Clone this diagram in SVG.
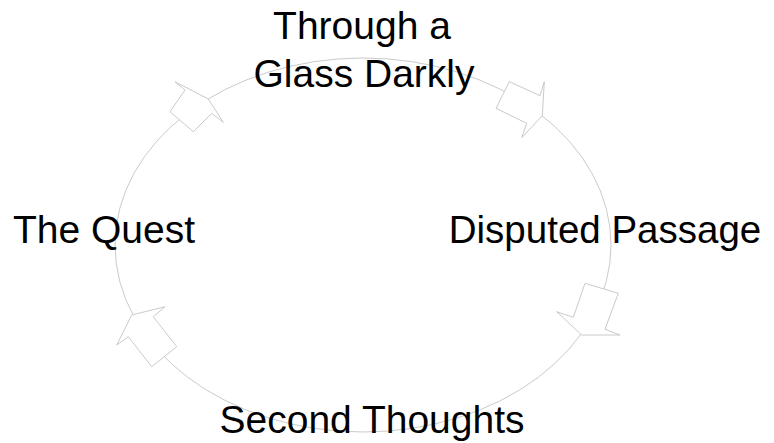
<svg xmlns="http://www.w3.org/2000/svg" width="774" height="443" viewBox="0 0 774 443">
<style>
.ring{fill:none;stroke:#bdbdbd;stroke-width:0.8}
.arr{fill:#ffffff;stroke:#c4c4c4;stroke-width:0.9;stroke-linejoin:miter}
.lbl{font-family:"Liberation Sans",Arial,sans-serif;font-size:39px;fill:#000000;text-anchor:middle}
</style>
<rect width="774" height="443" fill="#ffffff"/>
<g id="connectors">
<ellipse class="ring" cx="363" cy="245" rx="248" ry="187"/>
<polygon class="arr" points="208.3,99 223.3,122.3 211.7,113.3 193.3,131.7 170,111.7 185,90 175,81.7"/>
<polygon class="arr" points="542.3,115.7 521.7,137.7 526.7,123.3 496,108.3 509.3,81.7 540,95.7 544.3,81.7"/>
<polygon class="arr" points="581.7,335 556.7,311.7 573.3,317.3 585,283.3 618.3,293.3 605,329.3 620,335"/>
<polygon class="arr" points="131.7,315 165,306.7 153.3,316.7 176.7,346.7 151.7,366.7 128.3,336.7 116.7,345"/>
</g>
<g id="node-top">
<text class="lbl" x="362" y="39">Through a</text>
<text class="lbl" x="364" y="87">Glass Darkly</text>
</g>
<g id="node-right">
<text class="lbl" x="605" y="243" style="font-size:38.5px">Disputed Passage</text>
</g>
<g id="node-bottom">
<text class="lbl" x="372" y="433">Second Thoughts</text>
</g>
<g id="node-left">
<text class="lbl" x="104" y="243">The Quest</text>
</g>
</svg>
